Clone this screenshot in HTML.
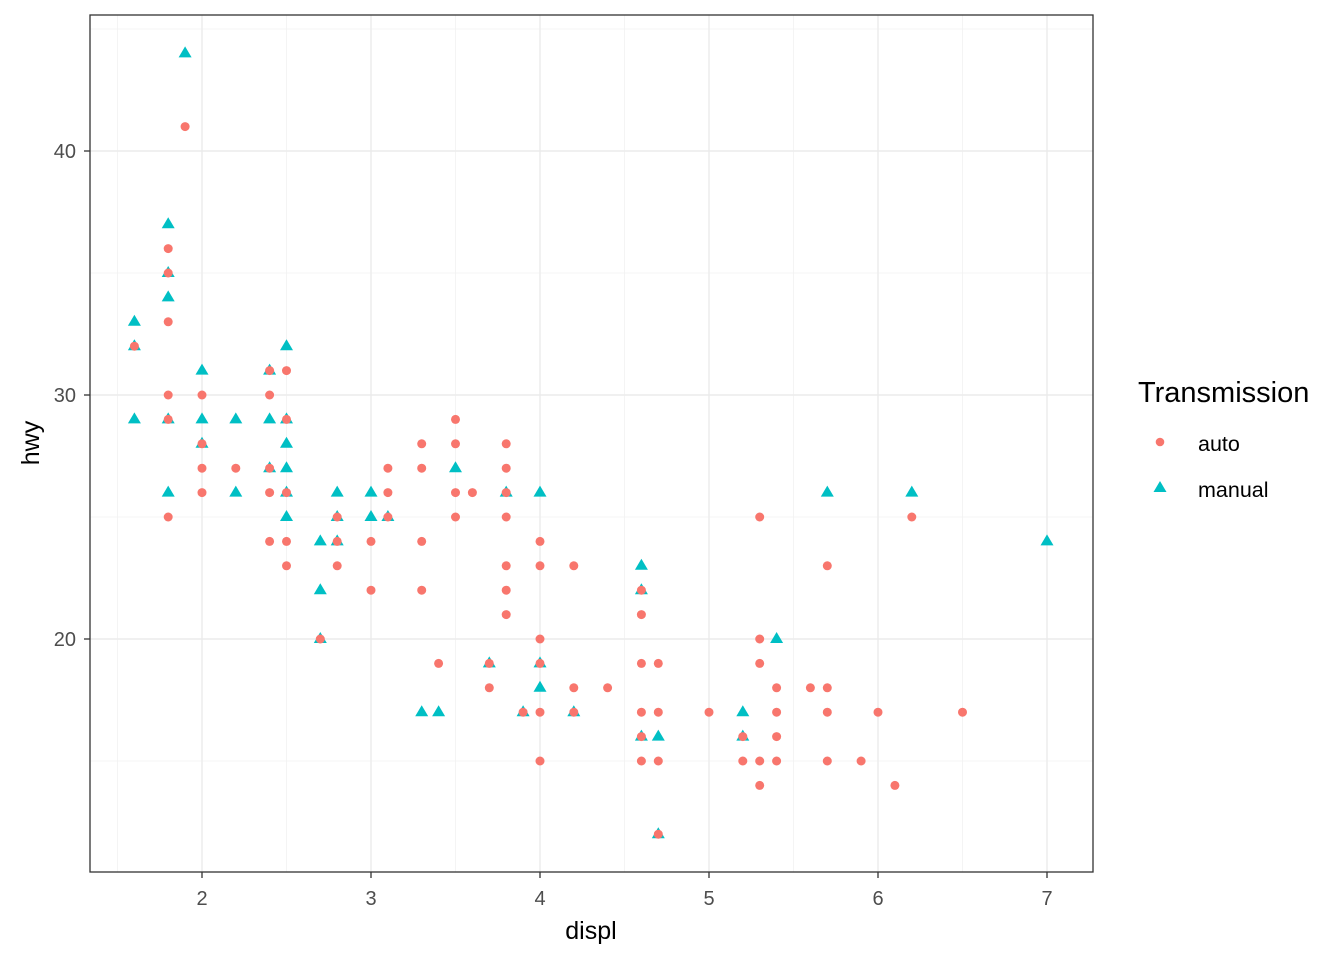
<!DOCTYPE html>
<html><head><meta charset="utf-8"><style>
html,body{margin:0;padding:0;background:#fff;}
svg{display:block;font-family:"Liberation Sans",Arial,sans-serif;}
</style></head><body>
<svg id="s" width="1344" height="960" xmlns="http://www.w3.org/2000/svg">
<rect x="0" y="0" width="1344" height="960" fill="#fff"/>
<g id="grid"></g>
<g id="pts"></g>
<rect x="90" y="15" width="1003" height="857" fill="none" stroke="#333" stroke-width="1.3"/>
<g id="axes" font-size="20" fill="#4d4d4d"></g>
<text x="591" y="939" font-size="25" text-anchor="middle" fill="#000">displ</text>
<text transform="translate(39,443) rotate(-90)" font-size="25" text-anchor="middle" fill="#000">hwy</text>
<text x="1138" y="402" font-size="29" fill="#000">Transmission</text>
<circle cx="1160" cy="442" r="4.3" fill="#F8766D"/>
<polygon points="1160,481 1166.5,492 1153.5,492" fill="#00BFC4"/>
<text x="1198" y="451" font-size="21.5" fill="#000">auto</text>
<text x="1198" y="497" font-size="21.5" fill="#000">manual</text>
</svg>
<script>
var NS="http://www.w3.org/2000/svg";
function X(d){return 202+(d-2)*169;}
function Y(h){return 395-(h-30)*24.4;}
function el(p,t,a){var e=document.createElementNS(NS,t);for(var k in a)e.setAttribute(k,a[k]);p.appendChild(e);return e;}
var g=document.getElementById('grid'),ax=document.getElementById('axes'),pt=document.getElementById('pts');
[1.5,2.5,3.5,4.5,5.5,6.5].forEach(function(d){el(g,'line',{x1:X(d),x2:X(d),y1:15,y2:872,stroke:'#f2f2f2','stroke-width':0.8});});
[15,25,35,45].forEach(function(h){el(g,'line',{y1:Y(h),y2:Y(h),x1:90,x2:1093,stroke:'#f2f2f2','stroke-width':0.8});});
[2,3,4,5,6,7].forEach(function(d){el(g,'line',{x1:X(d),x2:X(d),y1:15,y2:872,stroke:'#ebebeb','stroke-width':1.4});
 el(ax,'line',{x1:X(d),x2:X(d),y1:872,y2:878,stroke:'#333','stroke-width':1.3});
 var t=el(ax,'text',{x:X(d),y:905,'text-anchor':'middle'});t.textContent=d;});
[20,30,40].forEach(function(h){el(g,'line',{y1:Y(h),y2:Y(h),x1:90,x2:1093,stroke:'#ebebeb','stroke-width':1.4});
 el(ax,'line',{x1:84,x2:90,y1:Y(h),y2:Y(h),stroke:'#333','stroke-width':1.3});
 var t=el(ax,'text',{x:76,y:Y(h)+7,'text-anchor':'end'});t.textContent=h;});
var auto={1.6:[32],1.8:[36,35,33,30,29,25],1.9:[41],2.0:[30,28,27,26],2.2:[27],2.4:[31,30,27,26,24],2.5:[31,29,26,24,23],2.7:[20],2.8:[23,24,25],3.0:[24,22],3.1:[27,26,25],3.3:[28,27,24,22],3.4:[19],3.5:[29,28,26,25],3.6:[26],3.7:[18,19],3.8:[28,27,26,25,23,22,21],3.9:[17],4.0:[24,23,20,19,17,15],4.2:[23,18,17],4.4:[18],4.6:[22,21,19,17,16,15],4.7:[19,17,15,12],5.0:[17],5.2:[16,15],5.3:[25,20,19,15,14],5.4:[18,17,16,15],5.6:[18],5.7:[23,18,17,15],5.9:[15],6.0:[17],6.1:[14],6.2:[25],6.5:[17]};
var man={1.6:[33,32,29],1.8:[37,35,34,29,26],1.9:[44],2.0:[31,29,28],2.2:[29,26],2.4:[31,29,27],2.5:[32,29,28,27,26,25],2.7:[24,22,20],2.8:[26,25,24],3.0:[26,25],3.1:[25],3.3:[17],3.4:[17],3.5:[27],3.7:[19],3.8:[26],3.9:[17],4.0:[26,19,18],4.2:[17],4.6:[23,22,16],4.7:[16,12],5.2:[17,16],5.4:[20],5.7:[26],6.2:[26],7.0:[24]};
for(var d in man)man[d].forEach(function(h){var x=X(+d),y=Y(h);el(pt,'polygon',{points:x+','+(y-7)+' '+(x+6.5)+','+(y+4)+' '+(x-6.5)+','+(y+4),fill:'#00BFC4'});});
for(var d in auto)auto[d].forEach(function(h){el(pt,'circle',{cx:X(+d),cy:Y(h),r:4.5,fill:'#F8766D'});});
</script>
</body></html>
